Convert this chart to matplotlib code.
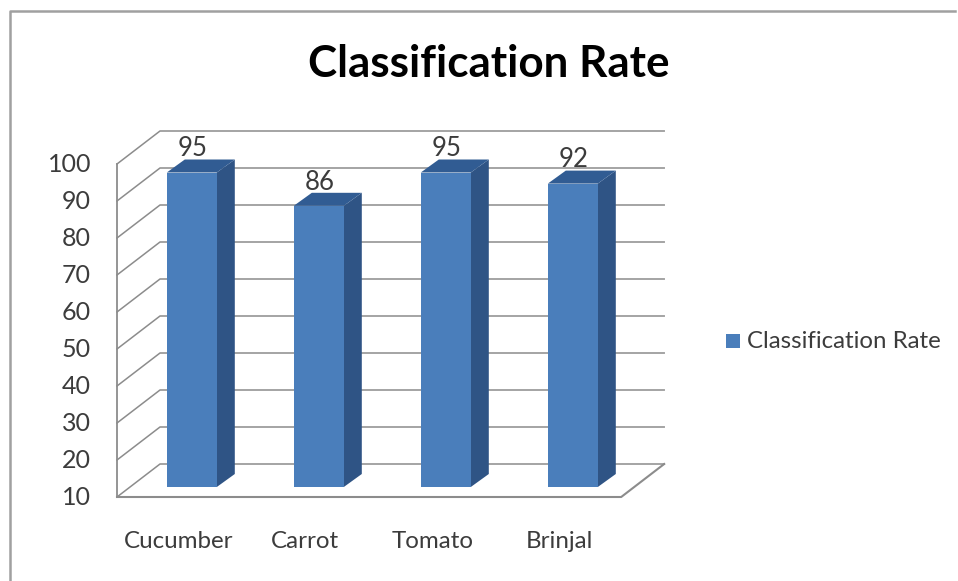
import matplotlib
matplotlib.use('Agg')
import matplotlib.pyplot as plt
from matplotlib.patches import Polygon, Rectangle

plt.rcParams['font.family'] = ['Lato', 'DejaVu Sans']

categories = ['Cucumber', 'Carrot', 'Tomato', 'Brinjal']
rates = [95, 86, 95, 92]
y_ticks = [10, 20, 30, 40, 50, 60, 70, 80, 90, 100]
series_name = 'Classification Rate'

front_color = '#4a7ebb'
side_color = '#2f5485'
top_color = '#315c93'
grid_color = '#8c8c8c'
text_color = '#3c3c3c'

# one category is 127 px wide and ten units are 37 px high
px_x = 127.0
px_y = 3.7
x0 = 117.0
y0 = 497.0

# the slant of the 3d box, in data units
depth_x = 43 / px_x
depth_y = 33 / px_y

# where the bars stand inside the box
bar_dx = 11.3 / px_x
bar_dy = 10 / px_y
bar_half = 25 / px_x
bar_depth_x = 18 / px_x
bar_depth_y = 13 / px_y

fig = plt.figure(figsize=(9.58, 5.81), dpi=100)
axis = fig.add_axes([0, 0, 1, 1])
axis.set_xlim(-x0 / px_x, (958 - x0) / px_x)
axis.set_ylim(10 - (581 - y0) / px_y, 10 + y0 / px_y)
axis.axis('off')

n = len(categories)

# outer frame, only left and top show in the picture
axis.plot([(10 - x0) / px_x, (10 - x0) / px_x, (955 - x0) / px_x],
          [10 - (581 - y0) / px_y, 10 + (y0 - 11) / px_y, 10 + (y0 - 11) / px_y],
          color='#a0a0a0', lw=1.8, zorder=1)

# gridlines on side and back wall
for v in y_ticks:
    axis.plot([0, depth_x, n + depth_x - 0.03], [v, v + depth_y, v + depth_y],
              color=grid_color, lw=1.1, zorder=2)

# axis line and floor
axis.plot([0, 0], [y_ticks[0], y_ticks[-1]], color=grid_color, lw=1.3, zorder=2)
axis.plot([0, n - 0.03, n + depth_x - 0.03], [10, 10, 10 + depth_y],
          color=grid_color, lw=1.5, zorder=2)

for i, (name, rate) in enumerate(zip(categories, rates)):
    left = i + 0.5 + bar_dx - bar_half
    right = i + 0.5 + bar_dx + bar_half
    base = 10 + bar_dy
    top = rate + bar_dy

    axis.add_patch(Polygon([(right, base), (right + bar_depth_x, base + bar_depth_y),
                            (right + bar_depth_x, top + bar_depth_y), (right, top)],
                           facecolor=side_color, edgecolor='none', zorder=3))
    axis.add_patch(Polygon([(left, top), (right, top),
                            (right + bar_depth_x, top + bar_depth_y),
                            (left + bar_depth_x, top + bar_depth_y)],
                           facecolor=top_color, edgecolor='none', zorder=3))
    axis.add_patch(Rectangle((left, base), right - left, top - base,
                             facecolor=front_color, edgecolor='none', zorder=4))

    axis.text(i + 0.5 + bar_dx + 1 / px_x, top + bar_depth_y - 0.5, str(rate), ha='center', va='bottom',
              fontsize=18.5, color=text_color, zorder=5)
    axis.text(i + 0.47 + 1.5 / px_x, 10 - 45 / px_y, name, ha='center', va='center',
              fontsize=17.4, color=text_color, zorder=5)

for v in y_ticks:
    axis.text(-26 / px_x, v - 0.2, str(v), ha='right', va='center', fontsize=18, color=text_color)

axis.text((489 - x0) / px_x, 10 + (y0 - 64) / px_y, 'Classification Rate', ha='center', va='center',
          fontsize=31.7, fontweight='bold', color='black')

# legend
axis.add_patch(Rectangle(((726 - x0) / px_x, 10 + (y0 - 348) / px_y), 14 / px_x, 14 / px_y,
                         facecolor=front_color, edgecolor='none'))
axis.text((747 - x0) / px_x, 10 + (y0 - 341) / px_y, series_name, ha='left', va='center',
          fontsize=17.3, color=text_color)

fig.savefig('out.png', dpi=100)
